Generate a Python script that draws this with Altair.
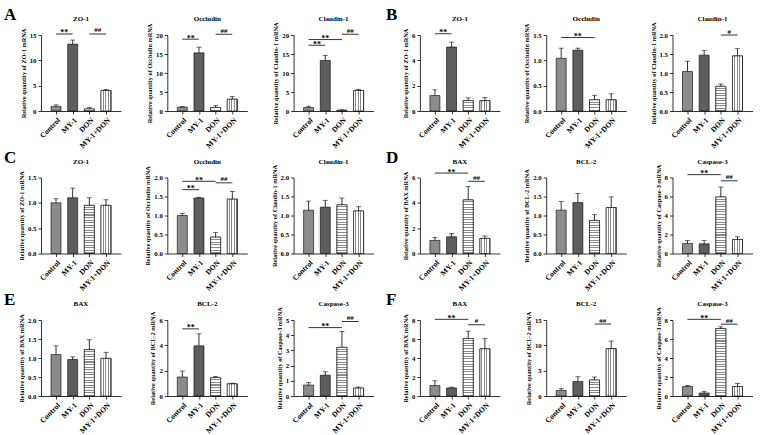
import json
import altair as alt
import pandas as pd

groups = ["Control", "MY-1", "DON", "MY-1+DON"]
letters = ["A", "B", "C", "D", "E", "F"]
genes = [["ZO-1", "Occludin", "Claudin-1"], ["ZO-1", "Occludin", "Claudin-1"],
         ["ZO-1", "Occludin", "Claudin-1"], ["BAX", "BCL-2", "Caspase-3"],
         ["BAX", "BCL-2", "Caspase-3"], ["BAX", "BCL-2", "Caspase-3"]]

A_means = [[0.9, 13.2, 0.4, 4.05], [1.0, 15.3, 0.9, 3.1], [0.9, 13.3, 0.2, 5.4]]
A_errs = [[0.3, 0.8, 0.25, 0.2], [0.2, 1.5, 0.5, 0.7], [0.35, 1.3, 0.1, 0.3]]
A_ymax = [15, 20, 20]
A_step = [5, 5, 5]
A_sigs = [[(0, 1, 15.2, "**"), (2, 3, 15.2, "##")],
          [(0, 1, 18.9, "**"), (2, 3, 20.2, "##")],
          [(0, 1, 17.3, "**"), (0, 2, 18.8, "**"), (2, 3, 20.2, "##")]]

B_means = [[1.22, 5.05, 0.82, 0.82], [1.04, 1.2, 0.22, 0.22], [1.04, 1.47, 0.65, 1.45]]
B_errs = [[0.45, 0.38, 0.22, 0.25], [0.2, 0.04, 0.09, 0.12], [0.27, 0.12, 0.06, 0.19]]
B_ymax = [6, 1.5, 2]
B_step = [2, 0.5, 0.5]
B_sigs = [[(0, 1, 6.1, "**")], [(0, 2, 1.45, "**")], [(2, 3, 2.0, "#")]]

C_means = [[1.0, 1.1, 0.95, 0.95], [1.0, 1.46, 0.43, 1.43], [1.14, 1.22, 1.28, 1.12]]
C_errs = [[0.08, 0.19, 0.15, 0.11], [0.05, 0.02, 0.12, 0.2], [0.24, 0.18, 0.18, 0.11]]
C_ymax = [1.5, 2, 2]
C_step = [0.5, 0.5, 0.5]
C_sigs = [[], [(0, 1, 1.68, "**"), (0, 2, 1.9, "**"), (2, 3, 1.86, "##")], []]

D_means = [[1.03, 1.32, 4.23, 1.19], [1.14, 1.34, 0.87, 1.21], [1.06, 1.02, 5.95, 1.48]]
D_errs = [[0.24, 0.24, 1.05, 0.19], [0.23, 0.24, 0.15, 0.28], [0.3, 0.33, 1.05, 0.28]]
D_ymax = [6, 2, 8]
D_step = [2, 0.5, 2]
D_sigs = [[(0, 2, 6.35, "**"), (2, 3, 5.7, "##")], [], [(0, 2, 8.3, "**"), (2, 3, 7.65, "##")]]

E_means = [[1.09, 0.96, 1.22, 0.99], [1.5, 3.96, 1.45, 0.96], [0.72, 1.37, 3.2, 0.52]]
E_errs = [[0.23, 0.07, 0.26, 0.16], [0.47, 0.95, 0.08, 0.05], [0.17, 0.22, 1.04, 0.07]]
E_ymax = [2, 6, 5]
E_step = [0.5, 2, 1]
E_sigs = [[], [(0, 1, 5.3, "**")], [(0, 2, 4.5, "**"), (2, 3, 4.9, "##")]]

F_means = [[1.1, 0.85, 6.05, 4.97], [1.1, 2.85, 3.15, 9.35], [1.0, 0.32, 7.1, 1.0]]
F_errs = [[0.5, 0.08, 0.77, 1.08], [0.35, 0.95, 0.6, 1.5], [0.1, 0.15, 0.18, 0.33]]
F_ymax = [8, 15, 8]
F_step = [2, 5, 2]
F_sigs = [[(0, 2, 8.07, "**"), (2, 3, 7.5, "#")], [(2, 3, 14.2, "##")],
          [(0, 2, 8.07, "**"), (2, 3, 7.56, "##")]]

ALL = {
    "A": (A_means, A_errs, A_ymax, A_step, A_sigs),
    "B": (B_means, B_errs, B_ymax, B_step, B_sigs),
    "C": (C_means, C_errs, C_ymax, C_step, C_sigs),
    "D": (D_means, D_errs, D_ymax, D_step, D_sigs),
    "E": (E_means, E_errs, E_ymax, E_step, E_sigs),
    "F": (F_means, F_errs, F_ymax, F_step, F_sigs),
}

W, H = 80, 76
FONT = "Liberation Serif"
bar_colors = ["#8c8c8c", "#5e5e5e", "#dcdcdc", "#ffffff"]
label_expr = json.dumps(groups) + "[datum.value]"


def stripes(n, horizontal):
    stops = []
    for i in range(n):
        a = i / n
        b = (i + 0.6) / n
        c = (i + 1) / n
        stops += [{"offset": a, "color": "#ffffff"}, {"offset": b, "color": "#ffffff"},
                  {"offset": b, "color": "#8a8a8a"}, {"offset": c, "color": "#8a8a8a"}]
    g = {"gradient": "linear", "stops": stops, "x1": 0, "y1": 0}
    if horizontal:
        g.update({"x2": 0, "y2": 1})
    else:
        g.update({"x2": 1, "y2": 0})
    return g


def panel(letter, k):
    means, errs, ymaxs, steps, sigs = ALL[letter]
    gene = genes[letters.index(letter)][k]
    m, e, ymax, step, sg = means[k], errs[k], ymaxs[k], steps[k], sigs[k]
    df = pd.DataFrame({"idx": list(range(4)), "group": groups, "mean": m,
                       "top": [a + b for a, b in zip(m, e)]})
    nt = int(round(ymax / step))
    ticks = [round(i * step, 3) for i in range(nt + 1)]
    fmt = ".1f" if step < 1 else "d"
    xaxis = alt.Axis(values=[0, 1, 2, 3], labelExpr=label_expr, title=None, grid=False)
    yaxis = alt.Axis(values=ticks, format=fmt, grid=False,
                     title=f"Relative quantity of {gene} mRNA", titlePadding=3)

    def xs(field):
        return alt.X(field, type="quantitative",
                     scale=alt.Scale(domain=[-0.6, 3.6], nice=False, zero=False),
                     axis=xaxis)

    def ys(field):
        return alt.Y(field, type="quantitative",
                     scale=alt.Scale(domain=[0, ymax], nice=False), axis=yaxis)

    base = alt.Chart(df)
    bars = base.mark_bar(size=10, stroke="black", strokeWidth=0.6).encode(
        x=xs("idx"), y=ys("mean"),
        fill=alt.Fill("group:N", scale=alt.Scale(domain=groups, range=bar_colors), legend=None))
    don_h = m[2] / ymax * H
    n_don = max(1, int(round(don_h / 2.6)))
    don = base.transform_filter("datum.idx == 2").mark_bar(
        size=10, stroke="black", strokeWidth=0.6, fill=stripes(n_don, True)).encode(
        x=xs("idx"), y=ys("mean"))
    mix = base.transform_filter("datum.idx == 3").mark_bar(
        size=10, stroke="black", strokeWidth=0.6, fill=stripes(4, False)).encode(
        x=xs("idx"), y=ys("mean"))
    err = base.mark_rule(color="black", strokeWidth=0.8).encode(
        x=xs("idx"), y=ys("mean"), y2="top")
    cap = base.mark_tick(color="black", size=5, thickness=0.8, orient="horizontal").encode(
        x=xs("idx"), y=ys("top"))
    title = alt.Chart(pd.DataFrame({"t": [gene]})).mark_text(
        font=FONT, fontWeight="bold", fontSize=7, baseline="middle", color="black").encode(
        text="t:N", x=alt.value(W / 2), y=alt.value(-16))
    layers = [bars, don, mix, err, cap, title]
    if sg:
        sdf = pd.DataFrame({"x1": [s[0] for s in sg], "x2": [s[1] for s in sg],
                            "h": [s[2] for s in sg], "lab": [s[3] for s in sg]})
        sdf["xm"] = (sdf["x1"] + sdf["x2"]) / 2
        sbase = alt.Chart(sdf)
        layers.append(sbase.mark_rule(color="black", strokeWidth=0.8).encode(
            x=xs("x1"), x2="x2", y=ys("h")))
        layers.append(sbase.transform_filter("datum.lab[0] == '*'").mark_text(
            font=FONT, fontWeight="bold", fontSize=8, baseline="alphabetic", dy=1.5,
            color="black").encode(x=xs("xm"), y=ys("h"), text="lab:N"))
        layers.append(sbase.transform_filter("datum.lab[0] == '#'").mark_text(
            font=FONT, fontWeight="bold", fontSize=7, baseline="alphabetic", dy=-1.5,
            color="black").encode(x=xs("xm"), y=ys("h"), text="lab:N"))
    if k == 0:
        lx = -37 if letters.index(letter) % 2 == 0 else -34
        layers.append(alt.Chart(pd.DataFrame({"t": [letter]})).mark_text(
            font=FONT, fontWeight="bold", fontSize=17, align="left", baseline="top",
            color="black").encode(text="t:N", x=alt.value(lx), y=alt.value(-28)))
    return alt.layer(*layers).properties(width=W, height=H)


panels = []
for r in range(3):
    for g in (letters[2 * r], letters[2 * r + 1]):
        for k in range(3):
            panels.append(panel(g, k))

chart = alt.concat(*panels, columns=6, spacing={"row": 66.5, "column": 46.3},
                   bounds="flush").properties(
    padding={"left": 4, "top": 6, "right": 2, "bottom": 2}
).configure_view(stroke=None).configure_axis(
    labelFont=FONT, titleFont=FONT, labelFontWeight="bold", titleFontWeight="bold",
    labelFontSize=6.8, titleFontSize=6.3, labelColor="black", titleColor="black",
    domainColor="black", tickColor="black", domainWidth=0.8, tickWidth=0.8, tickSize=3
).configure_axisX(
    labelAngle=-45, labelAlign="right", labelBaseline="top", labelOverlap=False,
    labelPadding=2, labelFontSize=7.6, tickSize=3
)

chart.save("out.html", embed_options={"renderer": "svg", "actions": False})
